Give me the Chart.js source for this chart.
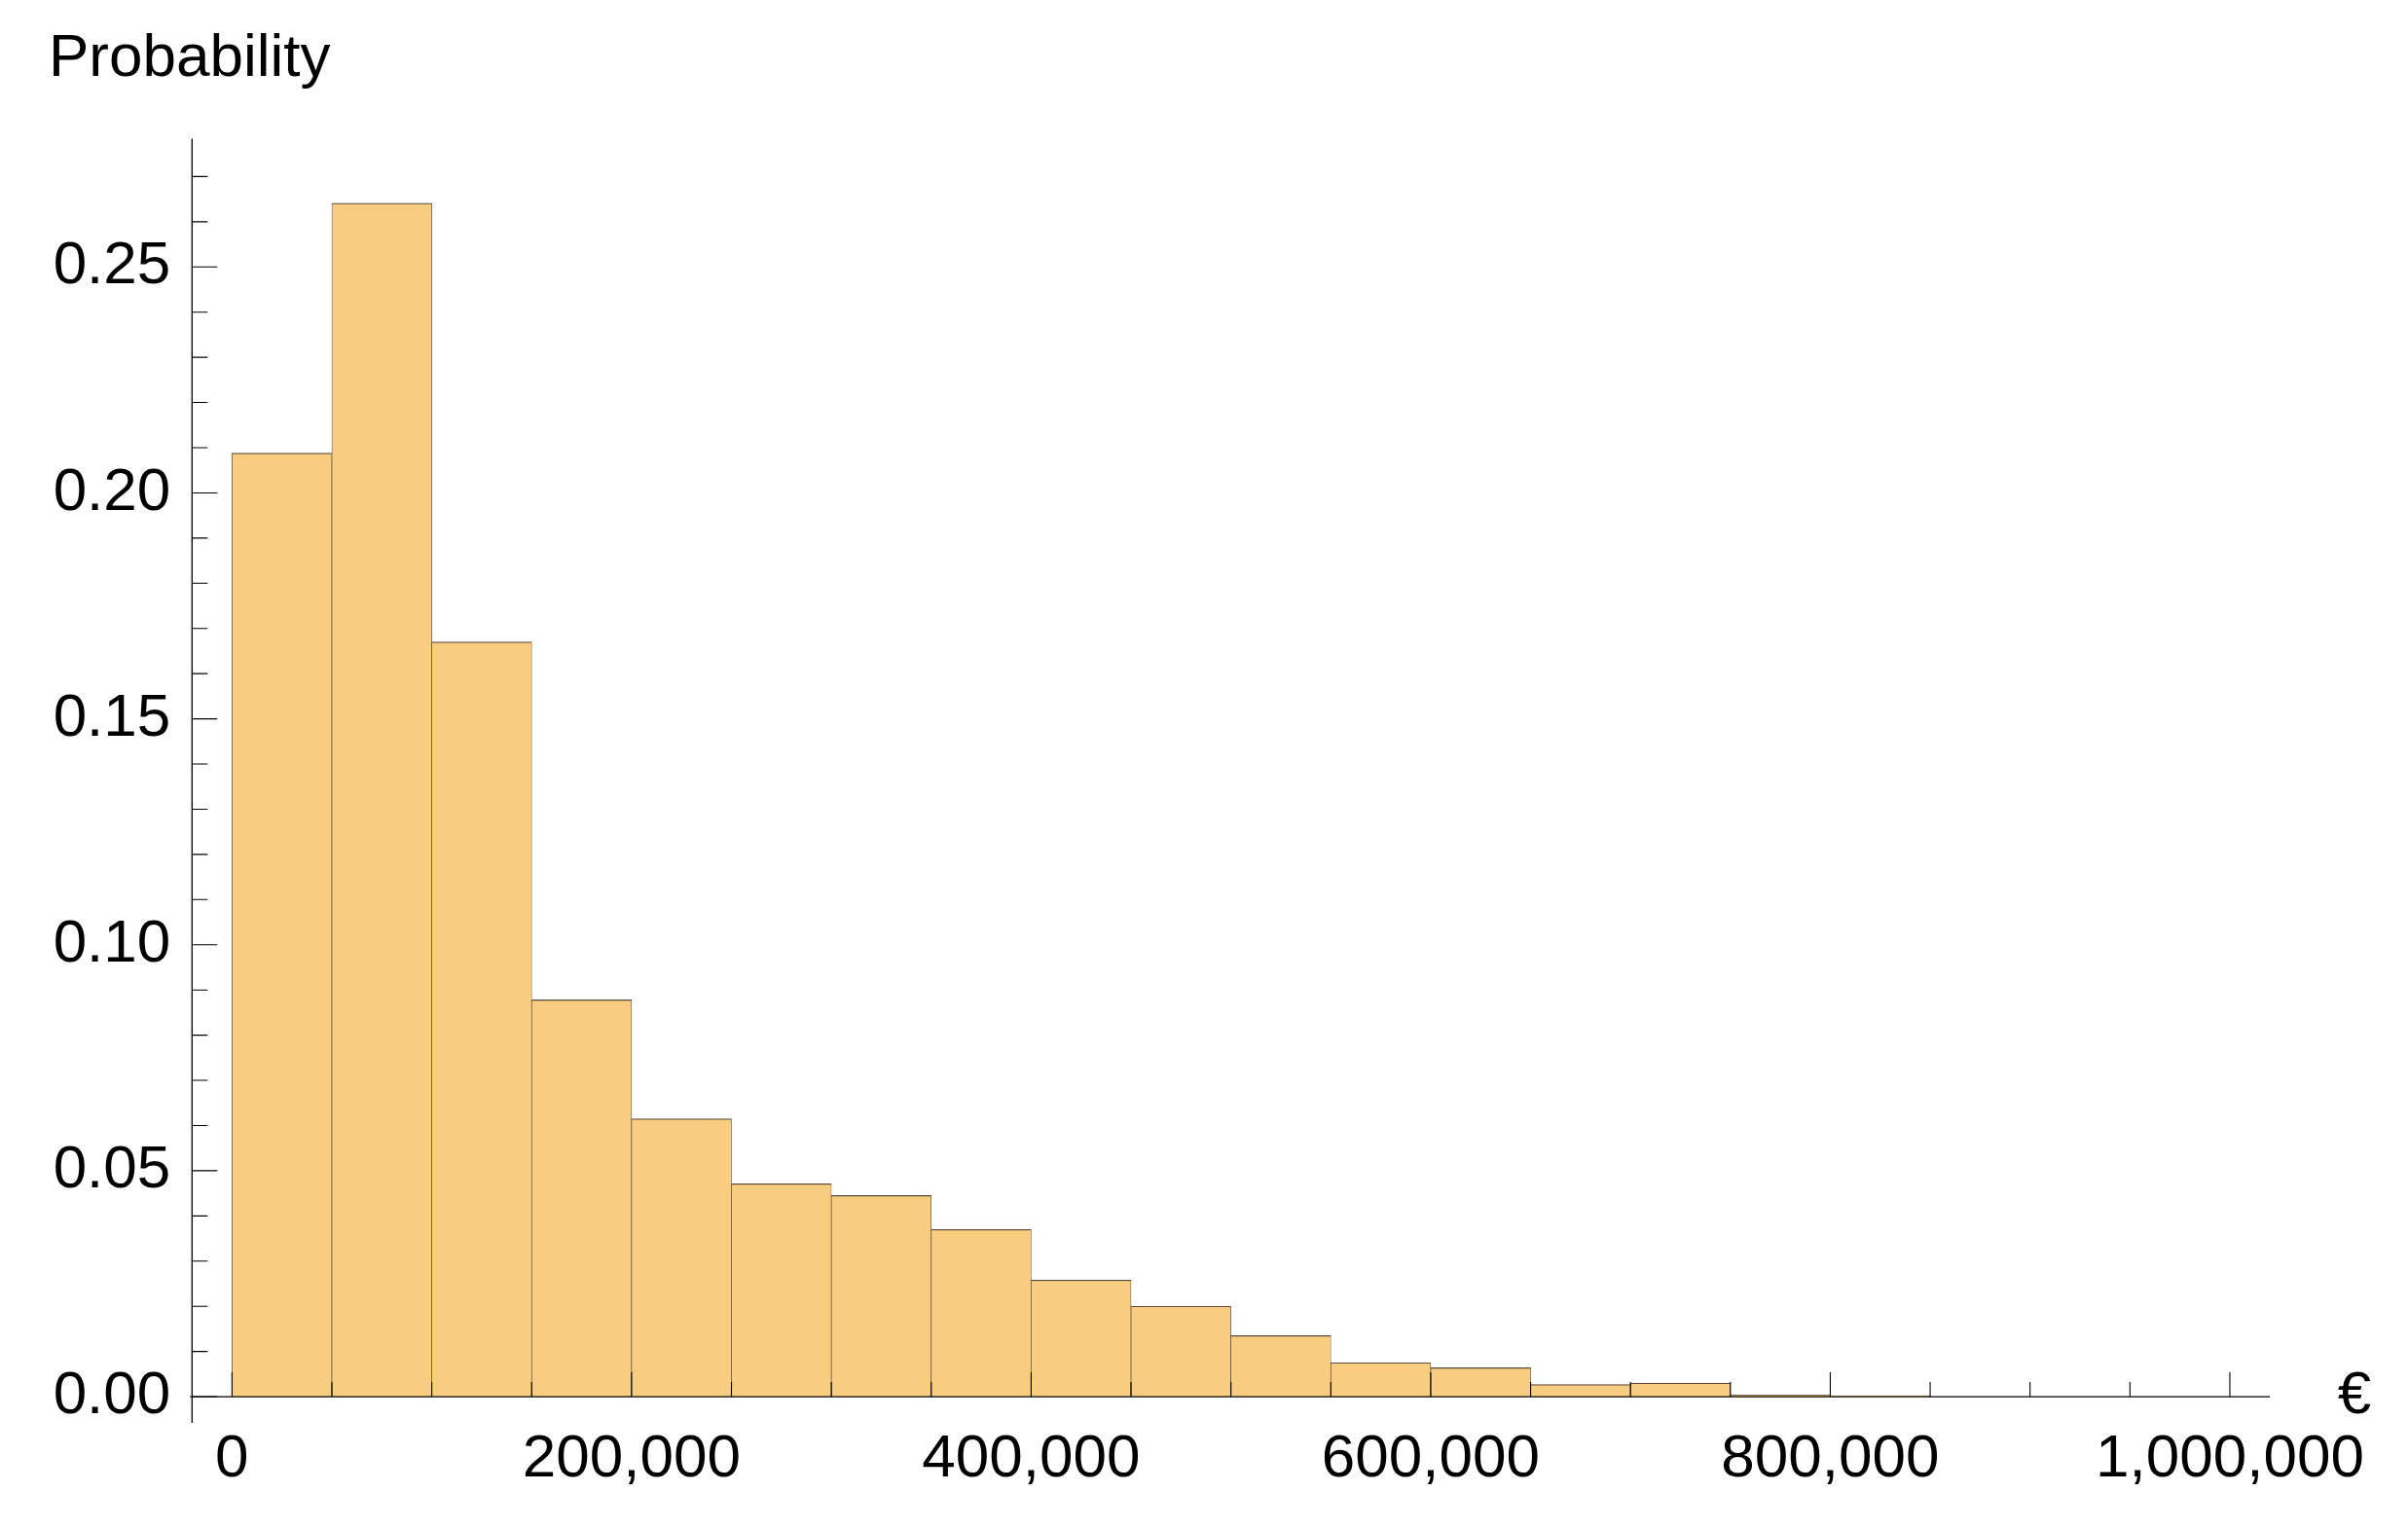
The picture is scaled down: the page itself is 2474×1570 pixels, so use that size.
<!DOCTYPE html>
<html>
<head>
<meta charset="utf-8">
<script src="https://cdn.jsdelivr.net/npm/chart.js@4.4.1/dist/chart.umd.min.js"></script>
<style>
  html, body { margin: 0; padding: 0; background: #ffffff; }
  #wrap { width: 2474px; height: 1570px; }
</style>
</head>
<body>
<div id="wrap"><canvas id="c" width="2474" height="1570"></canvas></div>
<script>
// ---- data ----
const binCenters = [25000, 75000, 125000, 175000, 225000, 275000, 325000, 375000, 425000,
                    475000, 525000, 575000, 625000, 675000, 725000, 775000, 825000];
const probabilities = [0.2088, 0.2641, 0.1670, 0.0878, 0.0615, 0.0471, 0.0445, 0.0370, 0.0258,
                       0.0200, 0.0135, 0.0075, 0.0064, 0.0027, 0.0030, 0.0004, 0.0002];
const xTickValues = [0, 200000, 400000, 600000, 800000, 1000000];
const xTickLabels = ['0', '200,000', '400,000', '600,000', '800,000', '1,000,000'];
const xMinorTickValues = [50000, 100000, 150000, 250000, 300000, 350000, 450000, 500000, 550000,
                          650000, 700000, 750000, 850000, 900000, 950000];
const yTickValues = [0, 0.05, 0.10, 0.15, 0.20, 0.25];
const yTickLabels = ['0.00', '0.05', '0.10', '0.15', '0.20', '0.25'];
const yMinorTickValues = [0.01, 0.02, 0.03, 0.04, 0.06, 0.07, 0.08, 0.09, 0.11, 0.12, 0.13, 0.14,
                          0.16, 0.17, 0.18, 0.19, 0.21, 0.22, 0.23, 0.24, 0.26, 0.27];
const yAxisTitle = 'Probability';
const xAxisUnit = '€';

const FONT = "'Liberation Sans', Arial, sans-serif";

const axesPlugin = {
  id: 'mmaAxes',
  afterDatasetsDraw(chart) {
    const { ctx, chartArea, scales } = chart;
    const x = scales.x, y = scales.y;
    const y0 = y.getPixelForValue(0);
    const xl = chartArea.left;
    ctx.save();
    ctx.strokeStyle = '#000';
    ctx.lineWidth = 1.3;
    ctx.beginPath();
    ctx.moveTo(xl - 2, y0); ctx.lineTo(chartArea.right, y0);
    ctx.moveTo(xl, chartArea.top); ctx.lineTo(xl, chartArea.bottom);
    ctx.stroke();
    ctx.lineWidth = 1.1;
    ctx.beginPath();
    yTickValues.forEach(v => { const p = y.getPixelForValue(v); ctx.moveTo(xl, p); ctx.lineTo(xl + 26, p); });
    yMinorTickValues.forEach(v => { const p = y.getPixelForValue(v); ctx.moveTo(xl, p); ctx.lineTo(xl + 16, p); });
    xTickValues.forEach(v => { const p = x.getPixelForValue(v); ctx.moveTo(p, y0); ctx.lineTo(p, y0 - 25); });
    xMinorTickValues.forEach(v => { const p = x.getPixelForValue(v); ctx.moveTo(p, y0); ctx.lineTo(p, y0 - 15); });
    ctx.stroke();
    ctx.fillStyle = '#000';
    ctx.font = '62px ' + FONT;
    ctx.textAlign = 'center';
    ctx.textBaseline = 'middle';
    ctx.fillText(xAxisUnit, chartArea.right + 87, y0);
    ctx.restore();
  }
};

new Chart(document.getElementById('c'), {
  type: 'bar',
  data: {
    datasets: [{
      data: binCenters.map((c, i) => ({ x: c, y: probabilities[i] })),
      backgroundColor: '#F9CD80',
      borderColor: '#5a4b3c',
      borderWidth: { top: 1.2, left: 0.7, right: 0.7, bottom: 0 },
      borderSkipped: false,
      barPercentage: 1,
      categoryPercentage: 1,
      grouped: false
    }]
  },
  options: {
    responsive: false,
    animation: false,
    devicePixelRatio: 1,
    layout: { padding: { left: 50, right: 142, top: 0, bottom: 0 } },
    plugins: {
      legend: { display: false },
      tooltip: { enabled: false },
      title: {
        display: true,
        text: yAxisTitle,
        align: 'start',
        color: '#000',
        font: { family: FONT, size: 62, weight: 'normal', lineHeight: 1.2 },
        padding: { top: 24, bottom: 44 }
      }
    },
    scales: {
      x: {
        type: 'linear',
        min: -20000,
        max: 1020000,
        offset: false,
        grid: { display: false, drawTicks: false },
        border: { display: false },
        afterBuildTicks: s => { s.ticks = xTickValues.map(v => ({ value: v })); },
        afterFit: s => { s.height = 108; },
        ticks: {
          autoSkip: false, maxRotation: 0, minRotation: 0, padding: 1, color: '#000',
          font: { family: FONT, size: 62 },
          callback: (v, i) => xTickLabels[i]
        }
      },
      y: {
        type: 'linear',
        min: -0.0058,
        max: 0.2784,
        grid: { display: false, drawTicks: false },
        border: { display: false },
        afterBuildTicks: s => { s.ticks = yTickValues.map(v => ({ value: v })); },
        afterFit: s => { s.width = 147.3; },
        ticks: {
          padding: 22, color: '#000',
          font: { family: FONT, size: 62 },
          callback: (v, i) => yTickLabels[i]
        }
      }
    }
  },
  plugins: [axesPlugin]
});
</script>
</body>
</html>
